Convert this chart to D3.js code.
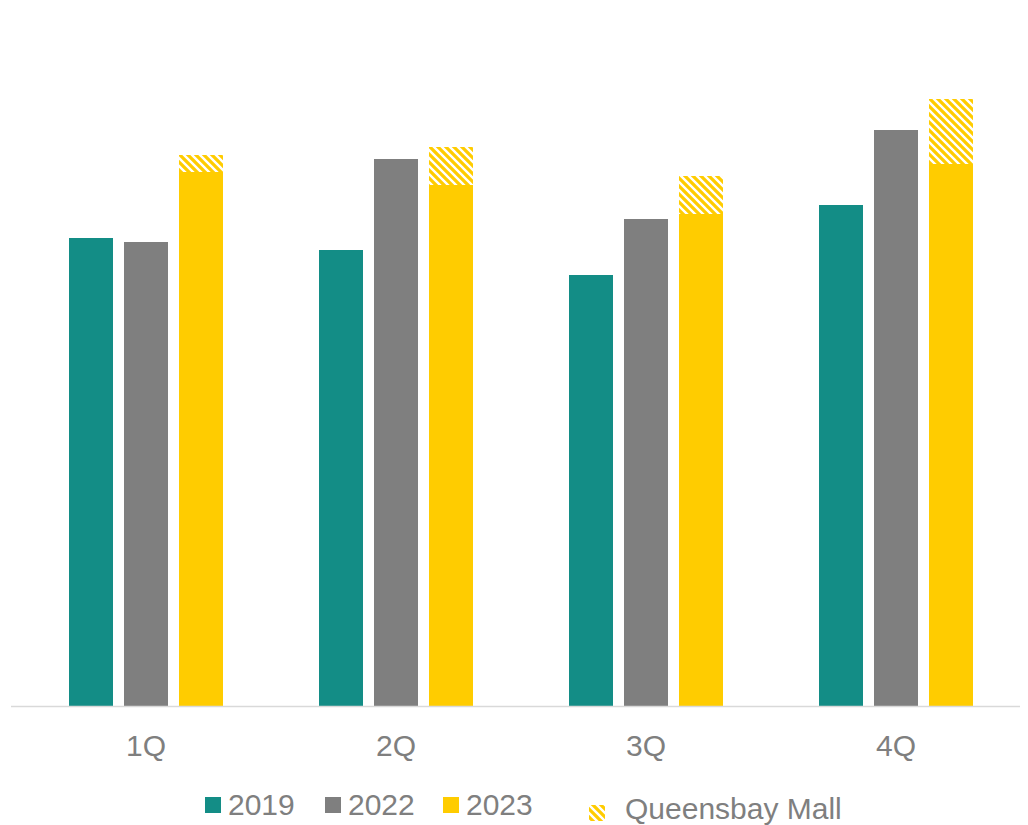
<!DOCTYPE html>
<html>
<head>
<meta charset="utf-8">
<script src="https://cdn.jsdelivr.net/npm/d3@7"></script>
<style>
  body { margin: 0; background: #fff; }
  text { font-family: "Liberation Sans", Arial, sans-serif; }
</style>
</head>
<body>
<svg id="chart"></svg>
<script>
const quarters = ['1Q', '2Q', '3Q', '4Q'];
const years = ['2019', '2022', '2023'];
const values2019 = [468, 456, 431, 501];
const values2022 = [464, 547, 487, 576];
const values2023 = [534, 521, 492, 542];
const queensbay = [17, 38, 38, 65];
const colors = ['#138d86', '#7f7f7f', '#ffcc00'];

const width = 1028, height = 825;
const baseline = 706;

const svg = d3.select('#chart')
    .attr('width', width)
    .attr('height', height);

const defs = svg.append('defs');
const pat = defs.append('pattern')
    .attr('id', 'hatch')
    .attr('patternUnits', 'userSpaceOnUse')
    .attr('width', 8)
    .attr('height', 8);
pat.append('rect').attr('width', 8).attr('height', 8).attr('fill', '#ffcc00');
pat.append('path')
    .attr('d', 'M-2,-2 L10,10 M-2,6 L2,10 M6,-2 L10,2')
    .attr('stroke', '#ffffff')
    .attr('stroke-width', 2.4);

const x0 = d3.scaleBand()
    .domain(quarters)
    .range([21, 1021])
    .paddingInner(0.384)
    .paddingOuter(0.192);

const x1 = d3.scaleBand()
    .domain(years)
    .range([0, x0.bandwidth()])
    .paddingInner(0.2);

const y = d3.scaleLinear()
    .domain([0, 700])
    .range([baseline, baseline - 700]);

const series = [values2019, values2022, values2023];

const groups = svg.append('g').selectAll('g')
    .data(quarters)
    .join('g')
    .attr('transform', d => `translate(${x0(d)},0)`);

groups.selectAll('rect.bar')
    .data((q, i) => years.map((yr, j) => ({yr, v: series[j][i]})))
    .join('rect')
    .attr('class', 'bar')
    .attr('x', d => x1(d.yr))
    .attr('y', d => y(d.v))
    .attr('width', x1.bandwidth())
    .attr('height', d => y(0) - y(d.v))
    .attr('fill', (d, j) => colors[j]);

// Queensbay Mall stacked on top of 2023
groups.append('rect')
    .attr('x', x1('2023'))
    .attr('y', (q, i) => y(values2023[i] + queensbay[i]))
    .attr('width', x1.bandwidth())
    .attr('height', (q, i) => y(values2023[i]) - y(values2023[i] + queensbay[i]))
    .attr('fill', 'url(#hatch)');

// x axis
svg.append('line')
    .attr('x1', 11).attr('x2', 1020)
    .attr('y1', baseline + 0.5).attr('y2', baseline + 0.5)
    .attr('stroke', '#d9d9d9')
    .attr('stroke-width', 1.5);

svg.append('g').selectAll('text')
    .data(quarters)
    .join('text')
    .attr('x', d => x0(d) + x0.bandwidth() / 2)
    .attr('y', 756)
    .attr('text-anchor', 'middle')
    .attr('font-size', 30)
    .attr('fill', '#7f7f7f')
    .text(d => d);

// legend
const legendX = [205, 325, 443];
const legend = svg.append('g');
years.forEach((yr, j) => {
    legend.append('rect')
        .attr('x', legendX[j]).attr('y', 797)
        .attr('width', 16).attr('height', 16)
        .attr('fill', colors[j]);
    legend.append('text')
        .attr('x', legendX[j] + 23).attr('y', 815)
        .attr('font-size', 30)
        .attr('fill', '#7f7f7f')
        .text(yr);
});
legend.append('rect')
    .attr('x', 589).attr('y', 805)
    .attr('width', 16).attr('height', 16)
    .attr('fill', 'url(#hatch)');
legend.append('text')
    .attr('x', 625).attr('y', 819)
    .attr('font-size', 30)
    .attr('fill', '#7f7f7f')
    .text('Queensbay Mall');
</script>
</body>
</html>
